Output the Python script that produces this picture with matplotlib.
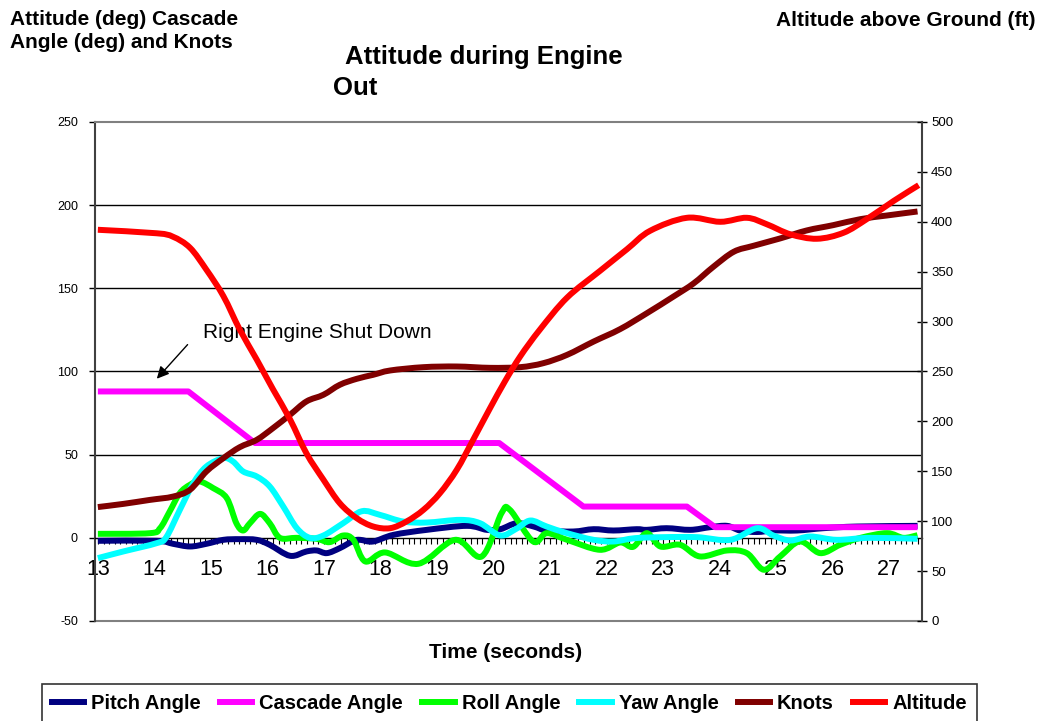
import matplotlib
matplotlib.use("Agg")
import matplotlib.pyplot as plt
from matplotlib.ticker import MultipleLocator
from matplotlib.path import Path
from matplotlib.patches import PathPatch
from matplotlib.lines import Line2D

plt.rcParams['font.family'] = ['Liberation Sans', 'DejaVu Sans']
plt.rcParams['axes.unicode_minus'] = False

# Flight data, left axis in degrees / knots, right axis in feet
pitch_t = [13.0, 14.04, 14.33, 14.63, 14.92, 15.22, 15.51, 15.81, 16.04, 16.4, 16.69, 16.87,
           17.05, 17.28, 17.52, 17.64, 17.87, 18.23, 18.82, 19.53, 19.88, 20.12, 20.41, 20.71,
           20.94, 21.41, 21.77, 22.12, 22.53, 22.71, 23.06, 23.48, 23.83, 24.13, 24.36, 24.66,
           24.95, 25.37, 25.84, 26.43, 27.5]
pitch = [-1.8, -1.8, -3.6, -5.2, -3.6, -1.2, -0.8, -1.2, -4.2, -10.8, -8.2, -7.6,
         -9.2, -6.2, -1.8, -1.2, -2.2, 1.8, 4.8, 7.2, 4.8, 5.2, 8.8, 6.8,
         4.4, 3.8, 5.2, 4.4, 5.2, 4.8, 5.8, 4.8, 6.4, 7.2, 4.4, 3.5,
         4.4, 4.4, 5.8, 6.8, 7.2]

cascade_t = [13.0, 14.6, 15.78, 20.1, 21.59, 23.42, 23.92, 27.5]
cascade = [88, 88, 57, 57, 18.8, 18.8, 6.4, 6.4]

roll_t = [13.0, 13.92, 14.1, 14.27, 14.45, 14.63, 14.8, 15.04, 15.28, 15.45, 15.57, 15.69,
          15.87, 16.04, 16.22, 16.51, 16.87, 17.1, 17.34, 17.52, 17.73, 18.08, 18.67, 19.32,
          19.79, 20.14, 20.29, 20.7, 20.94, 21.3, 21.88, 22.24, 22.47, 22.71, 22.95, 23.3,
          23.65, 24.13, 24.48, 24.78, 25.07, 25.42, 25.78, 26.13, 26.49, 26.96, 27.25, 27.5]
roll = [2.4, 2.8, 5.8, 15.8, 26.9, 31.9, 33.9, 29.9, 23.9, 8.8, 4.4, 8.8,
        14.4, 8.8, 0.0, 0.0, -0.6, -2.6, 1.4, -1.2, -14.2, -8.8, -15.6, -1.2,
        -11.2, 14.8, 16.8, -2.2, 2.8, -1.2, -7.2, -2.8, -5.4, 2.8, -5.2, -4.2,
        -11.2, -7.6, -9.2, -19.2, -11.2, -2.2, -9.2, -4.2, 0.0, 2.8, 0.0, 1.6]

yaw_t = [13.0, 13.45, 14.04, 14.21, 14.45, 14.69, 14.92, 15.22, 15.39, 15.57, 15.81, 16.04,
         16.28, 16.52, 16.75, 16.99, 17.34, 17.67, 17.99, 18.4, 18.82, 19.41, 19.76, 20.12,
         20.41, 20.65, 20.94, 21.3, 21.77, 22.12, 22.5, 23.0, 23.6, 24.19, 24.66, 24.95,
         25.25, 25.6, 26.07, 26.66, 27.5]
yaw = [-12.2, -8.2, -3.2, 0.4, 16.8, 32.9, 42.9, 47.9, 45.9, 39.9, 36.9, 30.9,
       18.8, 5.8, 0.0, 1.4, 8.8, 16.0, 13.8, 9.8, 9.2, 10.8, 8.8, 1.4,
       5.6, 10.4, 6.8, 2.8, -1.2, -2.2, -0.2, 0.4, 0.4, -1.2, 5.8, 1.4,
       -1.6, 0.8, -1.2, 0.0, -0.6]

knots_t = [13.0, 13.45, 13.92, 14.33, 14.63, 14.92, 15.22, 15.51, 15.81, 16.1, 16.4, 16.69,
           16.99, 17.28, 17.58, 17.87, 18.17, 18.76, 19.35, 19.94, 20.47, 20.88, 21.3, 21.77,
           22.24, 22.71, 23.18, 23.54, 23.89, 24.25, 24.6, 25.07, 25.54, 26.01, 26.49, 26.96,
           27.5]
knots = [18.5, 20.4, 22.8, 24.8, 28.9, 39.9, 47.9, 54.5, 58.9, 66, 74, 82,
         86, 92, 95.6, 98, 100.6, 102.6, 103, 102.2, 102.6, 105, 110, 118,
         125.5, 135, 145, 153, 163, 172, 175.6, 180, 184.8, 188, 191.6, 193.8,
         196.2]

altitude_t = [13.0, 14.04, 14.33, 14.63, 14.92, 15.22, 15.51, 15.81, 16.1, 16.4, 16.69, 16.99,
              17.28, 17.58, 17.87, 18.17, 18.46, 18.76, 19.05, 19.35, 19.64, 19.94, 20.2, 20.47,
              20.82, 21.3, 21.88, 22.36, 22.77, 23.42, 24.01, 24.48, 24.83, 25.25, 25.72, 26.19,
              26.6, 27.08, 27.52]
altitude = [392, 388.5, 385, 374, 352, 325.6, 292, 262, 232, 202, 168, 141.6,
            118, 103, 94.7, 93, 99.7, 111.4, 128, 151.6, 181.7, 213.5, 240, 265,
            292, 324, 350.7, 372.5, 391, 404, 400, 404, 397.6, 387.5, 383, 389,
            402.6, 421, 436.7]

hours = list(range(13, 28))


def smooth_line(axis, xs, ys, color, lw, smooth=True):
    # smoothed line through the points (cubic bezier segments)
    verts = [(xs[0], ys[0])]
    codes = [Path.MOVETO]
    n = len(xs)
    for i in range(n - 1):
        x0, y0 = (xs[i - 1], ys[i - 1]) if i > 0 else (xs[i], ys[i])
        x1, y1 = xs[i], ys[i]
        x2, y2 = xs[i + 1], ys[i + 1]
        x3, y3 = (xs[i + 2], ys[i + 2]) if i + 2 < n else (x2, y2)
        k = 1 / 6 if smooth else 0
        verts += [(x1 + (x2 - x0) * k, y1 + (y2 - y0) * k),
                  (x2 - (x3 - x1) * k, y2 - (y3 - y1) * k),
                  (x2, y2)]
        codes += [Path.CURVE4] * 3
    patch = PathPatch(Path(verts, codes), facecolor='none', edgecolor=color, lw=lw,
                      capstyle='butt', joinstyle='round', zorder=3)
    axis.add_patch(patch)


fig = plt.figure(figsize=(10.42, 7.21), dpi=100)
ax = fig.add_axes([0.0912, 0.1387, 0.7937, 0.6921])
ax2 = ax.twinx()

lw = 4.3
series = [
    (ax, pitch_t, pitch, '#000080', 'Pitch Angle', True),
    (ax, cascade_t, cascade, '#FF00FF', 'Cascade Angle', False),
    (ax, roll_t, roll, '#00FF00', 'Roll Angle', True),
    (ax, yaw_t, yaw, '#00FFFF', 'Yaw Angle', True),
    (ax, knots_t, knots, '#800000', 'Knots', True),
    (ax2, altitude_t, altitude, '#FF0000', 'Altitude', True),
]
handles = []
for axis, xs, ys, color, name, sm in series:
    smooth_line(axis, xs, ys, color, lw, sm)
    handles.append(Line2D([], [], color=color, lw=lw, label=name))

ax.set_xlim(12.95, 27.58)
ax.set_ylim(-50, 250)
ax2.set_ylim(0, 500)

# horizontal grid at every 50 on the left scale
for g in [50, 100, 150, 200]:
    ax.axhline(g, color='black', lw=1, zorder=1)
ax.axhline(-50, color='#808080', lw=1.5, zorder=1, clip_on=False)

# x axis sits on the zero line
ax.spines['bottom'].set_position(('data', 0))
ax.spines['bottom'].set_color('black')
ax.spines['bottom'].set_linewidth(1)
ax.spines['top'].set_color('#808080')
ax.spines['top'].set_linewidth(1.5)
ax.spines['left'].set_color('#404040')
ax.spines['left'].set_linewidth(1.5)
ax.spines['right'].set_visible(False)
for s in ['top', 'bottom', 'left']:
    ax2.spines[s].set_visible(False)
ax2.spines['right'].set_color('#404040')
ax2.spines['right'].set_linewidth(1.5)

ax.set_xticks(hours)
ax.set_xticklabels([str(h) for h in hours], fontsize=15.5)
ax.xaxis.set_minor_locator(MultipleLocator(0.1))
ax.tick_params(axis='x', which='both', direction='out', length=4, width=0.8, pad=11)

ax.set_yticks(range(-50, 251, 50))
ax.tick_params(axis='y', direction='out', length=4.3, width=1, labelsize=9, pad=8)
ax2.set_yticks(range(0, 501, 50))
ax2.tick_params(axis='y', direction='inout', length=7, width=1, labelsize=9.5, pad=3)

ax.annotate('', xy=(14.01, 94.4), xytext=(14.62, 117.4),
            arrowprops=dict(arrowstyle='-|>', color='black', lw=1, mutation_scale=18))
ax.text(14.86, 123.5, 'Right Engine Shut Down', fontsize=15, va='center', ha='left')

fig.text(10 / 1042, 1 - 31 / 721, 'Attitude (deg) Cascade\nAngle (deg) and Knots',
         fontsize=15, fontweight='bold', ha='left', va='center', linespacing=1.25)
fig.text(1035 / 1042, 1 - 20 / 721, 'Altitude above Ground (ft)',
         fontsize=15, fontweight='bold', ha='right', va='center')
fig.text(345 / 1042, 1 - 57 / 721, 'Attitude during Engine',
         fontsize=18.5, fontweight='bold', ha='left', va='center')
fig.text(333 / 1042, 1 - 88 / 721, 'Out',
         fontsize=18.5, fontweight='bold', ha='left', va='center')
fig.text(506 / 1042, 1 - 652 / 721, 'Time (seconds)',
         fontsize=15, fontweight='bold', ha='center', va='center')

leg = fig.legend(handles=handles, ncol=6, loc='upper left',
                 bbox_to_anchor=(42 / 1042, 1 - 684 / 721),
                 prop={'weight': 'bold', 'size': 14.5}, frameon=True, fancybox=False,
                 edgecolor='black', handlelength=1.6, handletextpad=0.35,
                 columnspacing=0.95, borderpad=0.5, borderaxespad=0)
leg.get_frame().set_linewidth(1.2)

fig.savefig('out.png', dpi=100)
